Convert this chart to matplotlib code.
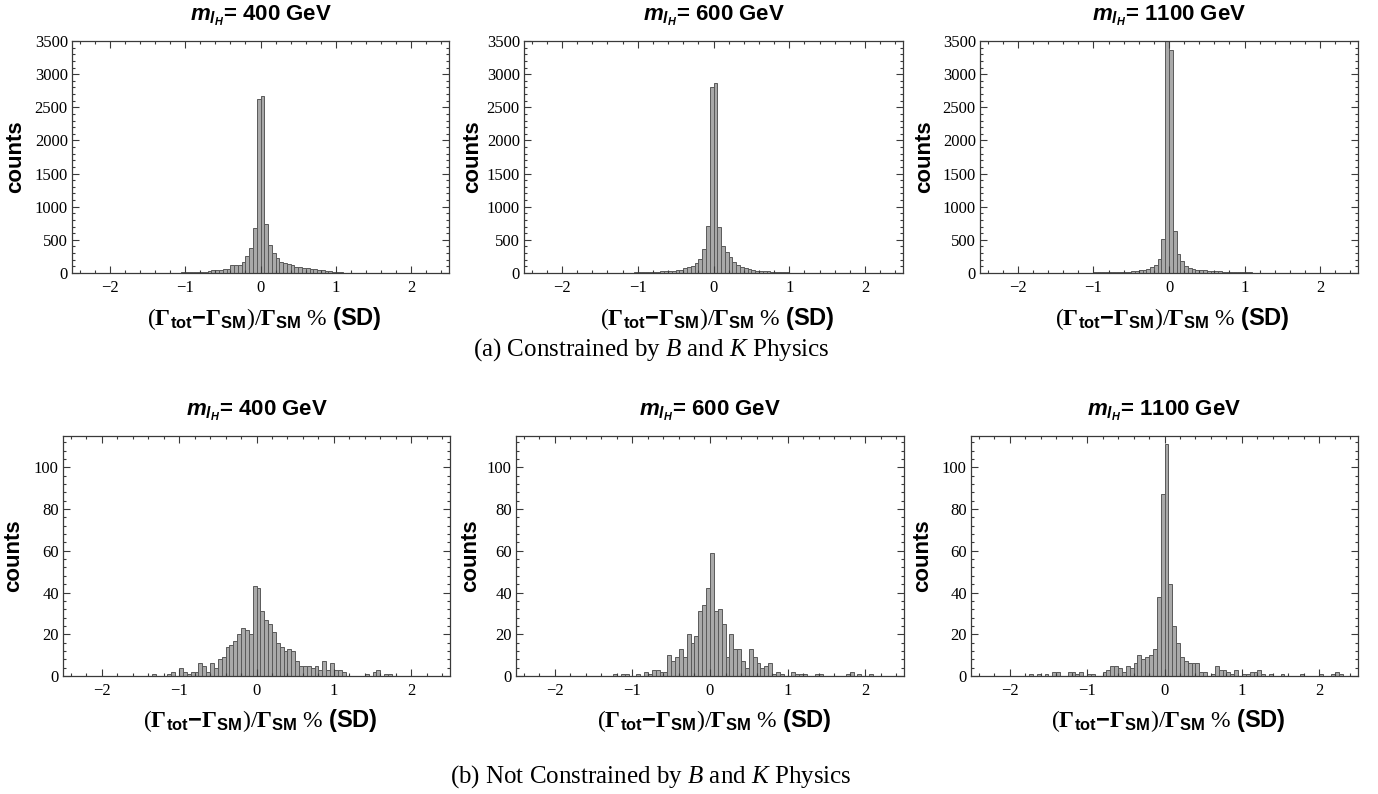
import numpy as np
import matplotlib
matplotlib.use("Agg")
import matplotlib.pyplot as plt
from matplotlib.ticker import MultipleLocator

plt.rcParams['font.family'] = ['Liberation Serif', 'DejaVu Serif']
plt.rcParams['mathtext.fontset'] = 'custom'
plt.rcParams['mathtext.rm'] = 'Liberation Serif'
plt.rcParams['mathtext.it'] = 'Liberation Serif:italic'
plt.rcParams['mathtext.bf'] = 'Liberation Sans:bold'
plt.rcParams['mathtext.sf'] = 'Liberation Serif:bold'
plt.rcParams['mathtext.bfit'] = 'Liberation Sans:italic:bold'

# histogram data, bin width 0.05, counts listed from the first bin edge
bin_w = 0.05
masses = ['400', '600', '1100']

# (a) constrained by B and K physics
start_a = -1.25
counts_a400 = [2, 3, 5, 6, 8, 10, 12, 15, 18, 22, 20, 28, 45, 48, 50, 55, 65, 122, 124, 125,
               168, 262, 380, 675, 2625,
               2671, 745, 420, 300, 228, 160, 146, 135, 116, 96, 86, 76, 74, 60, 55, 45, 40,
               30, 25, 20, 14, 10, 7, 5, 3, 2]
counts_a600 = [2, 3, 5, 6, 8, 10, 12, 14, 16, 20, 22, 25, 30, 30, 35, 40, 50, 76, 86, 111,
               151, 212, 368, 711, 2807,
               2873, 700, 413, 312, 242, 166, 121, 86, 70, 55, 45, 35, 30, 28, 25, 20, 15,
               12, 10, 8, 6, 4, 3, 2, 1, 1]
counts_a1100 = [3, 4, 5, 6, 7, 8, 9, 10, 12, 14, 15, 16, 18, 20, 22, 25, 30, 40, 50, 60,
                91, 126, 217, 519, 3530,
                3357, 630, 282, 181, 106, 76, 60, 50, 45, 40, 35, 30, 28, 25, 22, 20, 18,
                15, 15, 12, 10, 8, 6, 4, 3, 2]

# (b) not constrained
start_b400 = -1.4
counts_b400 = [0, 1, 0, 0, 0, 1, 2, 0, 4, 2, 1, 2, 2, 6, 5, 2, 6, 4, 8, 9,
               14, 15, 17, 20, 23, 22, 20, 43,
               42, 31, 27, 25, 21, 16, 14, 12, 13, 12, 7, 5, 5, 5, 4, 5, 3, 7, 3, 6,
               3, 3, 2, 0, 0, 0, 0, 0, 1, 0, 2, 3, 0, 1, 1]
start_b600 = -1.25
counts_b600 = [1, 0, 1, 1, 0, 0, 1, 0, 2, 1, 3, 3, 2, 2, 10, 7, 9, 13, 9, 20,
               16, 19, 31, 34, 42,
               59, 31, 32, 25, 9, 20, 13, 13, 7, 4, 13, 9, 6, 4, 5, 6, 1, 2, 1, 0,
               0, 2, 1, 1, 1, 0, 0, 1, 1, 0, 0, 0, 0, 0, 0, 1, 2, 0, 1, 0, 0, 1]
start_b1100 = -1.75
counts_b1100 = [1, 0, 1, 0, 1, 0, 2, 2, 0, 0, 2, 2, 1, 2, 0, 1, 1, 0, 0, 2,
                3, 5, 5, 4, 2, 5, 4, 6, 10, 8, 9, 10, 13, 38, 87,
                111, 44, 24, 16, 9, 7, 6, 6, 6, 2, 2, 0, 1, 5, 3, 3, 2, 1, 3, 0,
                1, 1, 2, 2, 3, 1, 0, 1, 0, 0, 1, 0, 0, 0, 0, 1, 0, 0, 0, 0,
                1, 0, 0, 1, 2, 1]

top_panels = [(start_a, counts_a400), (start_a, counts_a600), (start_a, counts_a1100)]
bot_panels = [(start_b400, counts_b400), (start_b600, counts_b600), (start_b1100, counts_b1100)]

W, H = 1378, 794
fig = plt.figure(figsize=(W / 100, H / 100), dpi=100)

# axes boxes in pixels: left, right, top, bottom
top_boxes = [(72, 449, 41, 273), (524, 903, 41, 273), (980, 1358, 41, 273)]
bot_boxes = [(63, 450, 436, 676), (516, 904, 436, 676), (971, 1358, 436, 676)]
top_ylab = [26, 483, 935]
bot_ylab = [24, 481, 933]

bar_fill = '#a9a9a9'
bar_edge = '#5a5a5a'
frame = '#3a3a3a'

xlab = (r'$(\mathsf{\Gamma}_{\mathbf{tot}}\mathbf{-}\mathsf{\Gamma}_{\mathbf{SM}})'
        r'/\mathsf{\Gamma}_{\mathbf{SM}}\ \%\ \mathbf{(SD)}$')


def panel(box, start, counts, mass, ymax, ymajor, yminor, ylab_px):
    l, r, t, b = box
    ax = fig.add_axes([l / W, (H - b) / H, (r - l) / W, (b - t) / H])
    counts = np.asarray(counts)
    left = start + bin_w * np.arange(len(counts))
    keep = counts > 0
    ax.bar(left[keep], counts[keep], width=bin_w, align='edge',
           color=bar_fill, edgecolor=bar_edge, linewidth=0.7)
    ax.set_xlim(-2.5, 2.5)
    ax.set_ylim(0, ymax)
    ax.xaxis.set_major_locator(MultipleLocator(1))
    ax.xaxis.set_minor_locator(MultipleLocator(0.2))
    ax.yaxis.set_major_locator(MultipleLocator(ymajor))
    ax.yaxis.set_minor_locator(MultipleLocator(yminor))
    ax.tick_params(which='both', direction='in', top=True, right=True,
                   colors=frame, labelcolor='black', labelsize=12, width=0.8)
    ax.tick_params(which='major', length=5)
    ax.tick_params(which='minor', length=2.5)
    ax.tick_params(axis='x', pad=5)
    ax.tick_params(axis='y', pad=3)
    for s in ax.spines.values():
        s.set_color(frame)
        s.set_linewidth(0.9)
    h = b - t
    ax.text(0.5, 1 + 25 / h, r'$\mathbfit{m}_{\mathbfit{l}_{\mathbfit{H}}}$= ' + mass + ' GeV',
            transform=ax.transAxes, ha='center', va='center',
            family='Liberation Sans', weight='bold', fontsize=16)
    ax.set_xlabel(xlab, fontsize=17, va='center')
    ax.xaxis.set_label_coords(0.51, -45 / h)
    ax.set_ylabel('counts', family='Liberation Sans', weight='bold', fontsize=16)
    ax.yaxis.set_label_coords((ylab_px - l) / (r - l), 0.5)
    return ax


for i in range(3):
    panel(top_boxes[i], top_panels[i][0], top_panels[i][1], masses[i], 3500, 500, 100, top_ylab[i])
    panel(bot_boxes[i], bot_panels[i][0], bot_panels[i][1], masses[i], 115, 20, 4, bot_ylab[i])

fig.text(651 / W, 1 - 350 / H, r'(a) Constrained by $B$ and $K$ Physics',
         ha='center', va='center', fontsize=18)
fig.text(651 / W, 1 - 777 / H, r'(b) Not Constrained by $B$ and $K$ Physics',
         ha='center', va='center', fontsize=18)

fig.savefig('out.png', dpi=100)
